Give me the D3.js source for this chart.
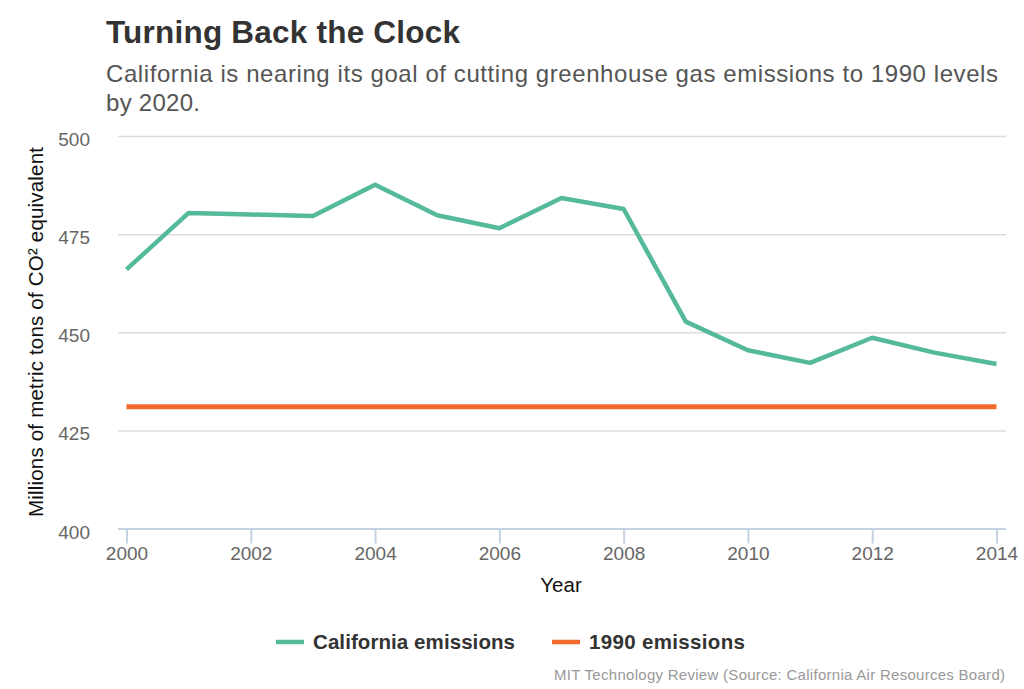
<!DOCTYPE html>
<html>
<head>
<meta charset="utf-8">
<script src="https://cdn.jsdelivr.net/npm/d3@7"></script>
<style>
  html, body { margin: 0; padding: 0; background: #fff; }
  svg { display: block; font-family: "Liberation Sans", Arial, Helvetica, sans-serif; }
</style>
</head>
<body>
<svg id="chart" width="1024" height="689"></svg>
<script>
const years = [2000, 2001, 2002, 2003, 2004, 2005, 2006, 2007, 2008, 2009, 2010, 2011, 2012, 2013, 2014];
const californiaEmissions = [466.0, 480.4, 480.0, 479.6, 487.6, 479.8, 476.5, 484.2, 481.4, 452.7, 445.4, 442.2, 448.6, 444.8, 441.9];
const emissions1990 = years.map(() => 431.0);
const yTicks = [400, 425, 450, 475, 500];
const xTicks = [2000, 2002, 2004, 2006, 2008, 2010, 2012, 2014];
const seriesNames = ["California emissions", "1990 emissions"];
const seriesColors = ["#55b99b", "#f26b2e"];

const svg = d3.select("#chart");
const plotLeft = 118, plotRight = 1006, plotTop = 136, plotBottom = 528.5;

const x = d3.scaleLinear().domain([2000, 2014]).range([126.5, 996.5]);
const y = d3.scaleLinear().domain([400, 500]).range([plotBottom, plotTop]);

// title
svg.append("text").attr("x", 106).attr("y", 43)
  .attr("font-size", 31.5).attr("font-weight", "bold").attr("fill", "#333")
  .attr("textLength", 354).attr("lengthAdjust", "spacing")
  .text("Turning Back the Clock");
svg.append("text").attr("x", 106).attr("y", 82)
  .attr("font-size", 24).attr("fill", "#555")
  .attr("textLength", 892).attr("lengthAdjust", "spacing")
  .text("California is nearing its goal of cutting greenhouse gas emissions to 1990 levels");
svg.append("text").attr("x", 106).attr("y", 111)
  .attr("font-size", 24).attr("fill", "#555")
  .attr("textLength", 94).attr("lengthAdjust", "spacing")
  .text("by 2020.");

// gridlines
svg.append("g").selectAll("line").data(yTicks.filter(d => d !== 400)).join("line")
  .attr("x1", plotLeft).attr("x2", plotRight)
  .attr("y1", d => y(d) + 0.5).attr("y2", d => y(d) + 0.5)
  .attr("stroke", "#dcdcdc").attr("stroke-width", 1.5);

// y axis labels
const yAxis = d3.axisLeft(y).tickValues(yTicks).tickSize(0).tickPadding(0);
const yg = svg.append("g").attr("transform", `translate(90,0)`).call(yAxis);
yg.select(".domain").remove();
yg.selectAll("text").attr("font-size", 19).attr("fill", "#666")
  .attr("font-family", "Liberation Sans, Arial, sans-serif").attr("dy", "0.5em");

// x axis
const xAxis = d3.axisBottom(x).tickValues(xTicks).tickFormat(d3.format("d")).tickSize(15).tickPadding(3).tickSizeOuter(0);
const xg = svg.append("g").attr("transform", `translate(0,${plotBottom})`).call(xAxis);
xg.select(".domain").attr("d", `M${plotLeft},0.5H${plotRight}`).attr("stroke", "#c4d2e2").attr("stroke-width", 2);
xg.selectAll(".tick line").attr("stroke", "#c4d2e2").attr("stroke-width", 2);
xg.selectAll("text").attr("font-size", 19).attr("fill", "#666")
  .attr("font-family", "Liberation Sans, Arial, sans-serif").attr("dy", "0.71em");

// axis titles
svg.append("text").attr("x", 561).attr("y", 592).attr("text-anchor", "middle")
  .attr("font-size", 20.5).attr("fill", "#111").text("Year");
svg.append("text").attr("transform", "translate(43,332) rotate(-90)").attr("text-anchor", "middle")
  .attr("font-size", 20.5).attr("fill", "#111")
  .attr("textLength", 370).attr("lengthAdjust", "spacing")
  .text("Millions of metric tons of CO² equivalent");

// lines
const line = d3.line().x((d, i) => x(years[i])).y(d => y(d));
svg.append("path").datum(emissions1990).attr("d", line)
  .attr("fill", "none").attr("stroke", seriesColors[1]).attr("stroke-width", 5);
svg.append("path").datum(californiaEmissions).attr("d", line)
  .attr("fill", "none").attr("stroke", seriesColors[0]).attr("stroke-width", 4.5)
  .attr("stroke-linejoin", "round");

// legend
const legendItems = [{x: 276, tx: 313, w: 202}, {x: 552, tx: 589, w: 156}];
legendItems.forEach((it, i) => {
  svg.append("line").attr("x1", it.x).attr("x2", it.x + 28).attr("y1", 642).attr("y2", 642)
    .attr("stroke", seriesColors[i]).attr("stroke-width", 4.5);
  svg.append("text").attr("x", it.tx).attr("y", 649).attr("font-size", 20.5)
    .attr("font-weight", "bold").attr("fill", "#333")
    .attr("textLength", it.w).attr("lengthAdjust", "spacing")
    .text(seriesNames[i]);
});

// credit
svg.append("text").attr("x", 1005).attr("y", 680).attr("text-anchor", "end")
  .attr("font-size", 15).attr("fill", "#999")
  .attr("textLength", 451).attr("lengthAdjust", "spacing")
  .text("MIT Technology Review (Source:  California Air Resources Board)");
</script>
</body>
</html>
